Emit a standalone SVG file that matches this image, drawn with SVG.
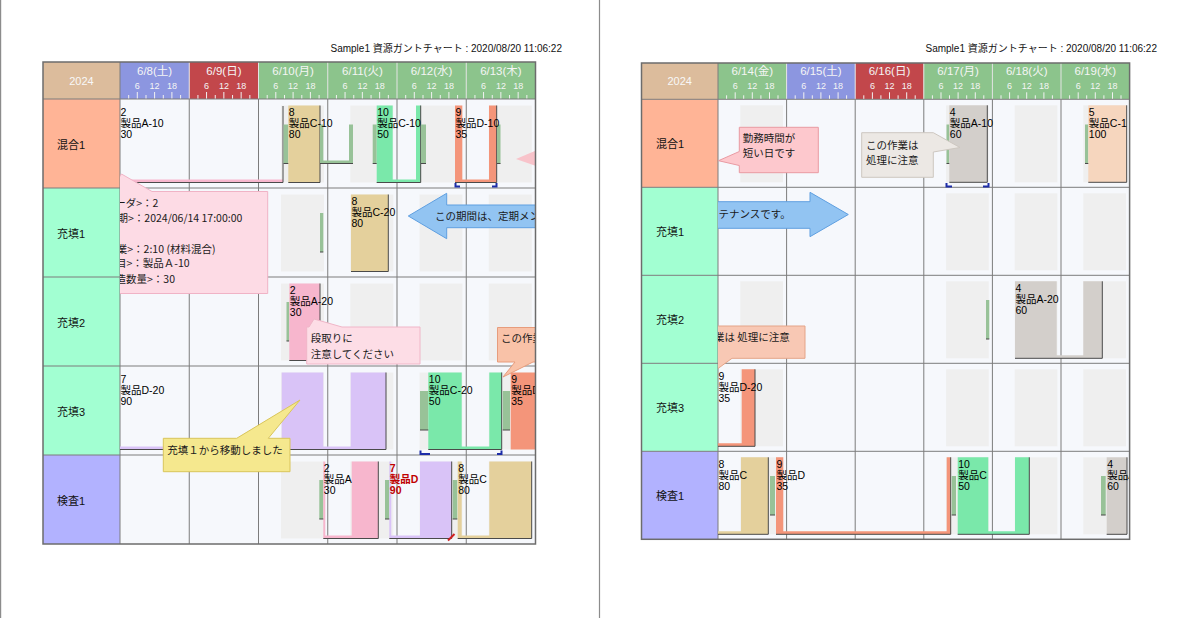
<svg xmlns="http://www.w3.org/2000/svg" width="1200" height="618" viewBox="0 0 1200 618">
<style>
.pg{stroke:#8c8c8c;stroke-width:1.2}
.title{font-family:"Liberation Sans","Noto Sans CJK JP",sans-serif;font-size:10px;fill:#111;text-anchor:end}
.bg{fill:#f6f8fc}
.gray{fill:#efefef}
.grid{stroke:#7c7c7c;stroke-width:1;fill:none}
.hsep{stroke:#e4e4e4;stroke-width:1}
.frame{fill:none;stroke:#6c6c6c;stroke-width:1.5}
.hd{font-family:"Liberation Sans","Noto Sans CJK JP",sans-serif;font-size:11.5px;fill:#f5f5f5;text-anchor:middle}
.yr{font-family:"Liberation Sans",sans-serif;font-size:11px;fill:#f8f8f8;text-anchor:middle}
.hr{font-family:"Liberation Sans",sans-serif;font-size:9px;fill:#f5f5f5;text-anchor:middle}
.tick{stroke:#f2f2f2;stroke-width:1;fill:none}
.res{font-family:"Liberation Sans","Noto Sans CJK JP",sans-serif;font-size:11px;fill:#111}
.t{font-family:"Liberation Sans","Noto Sans CJK JP",sans-serif;font-size:10.5px;fill:#000}
.red{fill:#c00000;font-weight:bold}
.cl{font-family:"Noto Sans CJK JP",sans-serif;font-size:10.5px;fill:#1a1a1a}
.setup{fill:#98c298}
.sh{fill:none;stroke:#4a4a4a;stroke-width:1}
.pink{fill:#f7b6cd}.tan{fill:#e4d09c}.grn{fill:#7ae8aa}.org{fill:#f4957a}.lav{fill:#d9c3f7}.tau{fill:#d3cfcb}.pch{fill:#f6d6be}
.hdl{fill:none;stroke:#1c2ca8;stroke-width:2}
</style>
<defs>
<clipPath id="cL"><rect x="120" y="99" width="415.5" height="445"/></clipPath>
<clipPath id="cR"><rect x="718" y="99.3" width="411.6" height="440"/></clipPath>
<path id="tkL" class="tick" d="M8.7,-4V0M17.3,-7V0M26,-4V0M34.6,-7V0M43.3,-4V0M51.9,-7V0M60.6,-4V0"/>
<path id="tkR" class="tick" d="M8.6,-4V0M17.2,-7V0M25.7,-4V0M34.3,-7V0M42.9,-4V0M51.5,-7V0M60,-4V0"/>
</defs>
<rect x="0" y="0" width="1200" height="618" fill="#fff"/>
<line class="pg" x1="0.6" y1="0" x2="0.6" y2="618"/>
<line class="pg" x1="599.5" y1="0" x2="599.5" y2="618"/>

<!-- ================= LEFT PAGE ================= -->
<g id="page-left">
<text class="title" x="562" y="51.5">Sample1 資源ガントチャート : 2020/08/20 11:06:22</text>
<g id="header-left">
<rect x="43" y="62" width="77" height="37" fill="#dcbc9c"/>
<rect x="120" y="62" width="69.25" height="37" fill="#8c96e0"/>
<rect x="189.25" y="62" width="69.25" height="37" fill="#c2474b"/>
<rect x="258.5" y="62" width="277" height="37" fill="#8cc48c"/>
<g class="hsep"><line x1="189.25" y1="62" x2="189.25" y2="99"/><line x1="258.5" y1="62" x2="258.5" y2="99"/><line x1="327.75" y1="62" x2="327.75" y2="99"/><line x1="397" y1="62" x2="397" y2="99"/><line x1="466.25" y1="62" x2="466.25" y2="99"/></g>
<text class="yr" x="81.5" y="85">2024</text>
<text class="hd" x="154.6" y="74.5">6/8(土)</text>
<text class="hd" x="223.9" y="74.5">6/9(日)</text>
<text class="hd" x="293.1" y="74.5">6/10(月)</text>
<text class="hd" x="362.4" y="74.5">6/11(火)</text>
<text class="hd" x="431.6" y="74.5">6/12(水)</text>
<text class="hd" x="500.9" y="74.5">6/13(木)</text>
<g class="hr">
<text x="137.3" y="88.5">6</text><text x="154.6" y="88.5">12</text><text x="171.9" y="88.5">18</text>
<text x="206.6" y="88.5">6</text><text x="223.9" y="88.5">12</text><text x="241.2" y="88.5">18</text>
<text x="275.8" y="88.5">6</text><text x="293.1" y="88.5">12</text><text x="310.4" y="88.5">18</text>
<text x="345.1" y="88.5">6</text><text x="362.4" y="88.5">12</text><text x="379.7" y="88.5">18</text>
<text x="414.3" y="88.5">6</text><text x="431.6" y="88.5">12</text><text x="448.9" y="88.5">18</text>
<text x="483.6" y="88.5">6</text><text x="500.9" y="88.5">12</text><text x="518.2" y="88.5">18</text>
</g>
<use href="#tkL" x="120" y="99"/><use href="#tkL" x="189.25" y="99"/><use href="#tkL" x="258.5" y="99"/><use href="#tkL" x="327.75" y="99"/><use href="#tkL" x="397" y="99"/><use href="#tkL" x="466.25" y="99"/>
</g>
<rect class="bg" x="120" y="99" width="415.5" height="445"/>
<g id="resources-left">
<g id="L-mix1"><rect x="43" y="99" width="77" height="89" fill="#ffb496"/><text class="res" x="57" y="148.5">混合1</text></g>
<g id="L-fill1"><rect x="43" y="188" width="77" height="89" fill="#a2ffd2"/><text class="res" x="57" y="237.5">充填1</text></g>
<g id="L-fill2"><rect x="43" y="277" width="77" height="89" fill="#a2ffd2"/><text class="res" x="57" y="326.5">充填2</text></g>
<g id="L-fill3"><rect x="43" y="366" width="77" height="89" fill="#a2ffd2"/><text class="res" x="57" y="415.5">充填3</text></g>
<g id="L-insp1"><rect x="43" y="455" width="77" height="89" fill="#b2b2ff"/><text class="res" x="57" y="504.5">検査1</text></g>
</g>
<g id="work-left" class="gray">
<rect x="281" y="105.5" width="43" height="77"/><rect x="350.3" y="105.5" width="43" height="77"/><rect x="419.5" y="105.5" width="43" height="77"/><rect x="488.8" y="105.5" width="43" height="77"/>
<rect x="281" y="194.5" width="43" height="77"/><rect x="350.3" y="194.5" width="43" height="77"/><rect x="419.5" y="194.5" width="43" height="77"/><rect x="488.8" y="194.5" width="43" height="77"/>
<rect x="281" y="283.5" width="43" height="77"/><rect x="350.3" y="283.5" width="43" height="77"/><rect x="419.5" y="283.5" width="43" height="77"/><rect x="488.8" y="283.5" width="43" height="77"/>
<rect x="281" y="372.5" width="43" height="77"/><rect x="350.3" y="372.5" width="43" height="77"/><rect x="419.5" y="372.5" width="43" height="77"/><rect x="488.8" y="372.5" width="43" height="77"/>
<rect x="281" y="461.5" width="43" height="77"/><rect x="350.3" y="461.5" width="43" height="77"/><rect x="419.5" y="461.5" width="43" height="77"/><rect x="488.8" y="461.5" width="43" height="77"/>
</g>
<path class="grid" d="M120,62V544M189.25,99V544M258.5,99V544M327.75,99V544M397,99V544M466.25,99V544M43,99H535.5M43,188H535.5M43,277H535.5M43,366H535.5M43,455H535.5"/>
<g id="tasks-left" clip-path="url(#cL)">
<g id="L-r1">
<path class="pink" d="M118,179.5H283V182.5H118Z"/><path class="sh" d="M283,106V182.5H118"/>
<rect class="setup" x="283.5" y="124.5" width="4.8" height="39"/>
<rect class="tan" x="288.3" y="105.5" width="31.7" height="77"/><path class="sh" d="M320,105.5V182.5H288.3"/>
<path class="setup" d="M320,124.5H323.3V160.5H349V124.5H353V163.5H320Z"/>
<rect class="setup" x="372.7" y="124.5" width="4" height="39"/>
<path class="grn" d="M376.7,105.5H392.7V179.5H416V105.5H420.7V182.5H376.7Z"/><path class="sh" d="M420.7,105.5V182.5H376.7"/>
<rect class="setup" x="421" y="124.5" width="5" height="39"/>
<path class="org" d="M455,105.5H462.3V179.5H489V105.5H496.7V182.5H455Z"/><path class="sh" d="M496.7,105.5V182.5H455"/>
<rect class="setup" x="497" y="124.5" width="3.5" height="39"/>
<path class="sh" d="M283.5,163.5H288.3M320,163.5H353M372.7,163.5H376.7M421,163.5H426M497,163.5H500.5"/>
<path class="hdl" d="M455.5,183V186.5H460M496.5,183V186.5H492"/>
<text class="t" x="120.5" y="115.5"><tspan x="120.5">2</tspan><tspan x="120.5" dy="11">製品A-10</tspan><tspan x="120.5" dy="11">30</tspan></text>
<text class="t" x="288.8" y="115.5"><tspan x="288.8">8</tspan><tspan x="288.8" dy="11">製品C-10</tspan><tspan x="288.8" dy="11">80</tspan></text>
<text class="t" x="377.2" y="115.5"><tspan x="377.2">10</tspan><tspan x="377.2" dy="11">製品C-10</tspan><tspan x="377.2" dy="11">50</tspan></text>
<text class="t" x="455.5" y="115.5"><tspan x="455.5">9</tspan><tspan x="455.5" dy="11">製品D-10</tspan><tspan x="455.5" dy="11">35</tspan></text>
<polygon points="516,159 536,150.5 536,166" fill="#f8c3ca"/>
</g>
<g id="L-r2">
<rect class="setup" x="320" y="213" width="3.3" height="39"/><path class="sh" d="M320,252H323.3"/>
<rect class="tan" x="351" y="194.5" width="37.3" height="77"/><path class="sh" d="M388.3,194.5V271.5H351"/>
<text class="t" x="351.5" y="204.5"><tspan x="351.5">8</tspan><tspan x="351.5" dy="11">製品C-20</tspan><tspan x="351.5" dy="11">80</tspan></text>
</g>
<g id="L-r3">
<rect class="setup" x="286.5" y="302" width="2.8" height="39"/><path class="sh" d="M286.5,341H289.3"/>
<rect class="pink" x="289.3" y="283.5" width="30.7" height="77"/><path class="sh" d="M320,283.5V360.5H289.3"/>
<text class="t" x="289.8" y="293.5"><tspan x="289.8">2</tspan><tspan x="289.8" dy="11">製品A-20</tspan><tspan x="289.8" dy="11">30</tspan></text>
</g>
<g id="L-r4">
<path class="lav" d="M118,446.5H281.7V372.5H323.3V446.5H350.7V372.5H386V449.5H118Z"/><path class="sh" d="M386,372.5V449.5H118"/>
<rect class="setup" x="420" y="391" width="8.3" height="39"/>
<path class="grn" d="M428.3,372.5H461.7V446.5H489.3V372.5H501.7V449.5H428.3Z"/><path class="sh" d="M501.7,372.5V449.5H428.3"/>
<rect class="setup" x="502.7" y="391" width="7.3" height="39"/>
<path class="sh" d="M420,430H428.3M502.7,430H510"/>
<path class="hdl" d="M420.5,450.5V454H430M501.5,450.5V454H497"/>
<rect class="org" x="510.7" y="372.5" width="30" height="77"/>
<text class="t" x="120.5" y="382.5"><tspan x="120.5">7</tspan><tspan x="120.5" dy="11">製品D-20</tspan><tspan x="120.5" dy="11">90</tspan></text>
<text class="t" x="428.8" y="382.5"><tspan x="428.8">10</tspan><tspan x="428.8" dy="11">製品C-20</tspan><tspan x="428.8" dy="11">50</tspan></text>
<text class="t" x="511.2" y="382.5"><tspan x="511.2">9</tspan><tspan x="511.2" dy="11">製品D-20</tspan><tspan x="511.2" dy="11">35</tspan></text>
</g>
<g id="L-r5">
<rect class="setup" x="319.3" y="480" width="4" height="39"/>
<path class="pink" d="M323.3,461.5H325.3V535.5H351.7V461.5H378.3V538.5H323.3Z"/><path class="sh" d="M378.3,461.5V538.5H323.3"/>
<rect class="setup" x="385" y="480" width="4.3" height="39"/>
<path class="lav" d="M389.3,461.5H391.3V535.5H420V461.5H451.7V538.5H389.3Z"/><path class="sh" d="M451.7,461.5V538.5H389.3"/>
<rect class="setup" x="452.7" y="480" width="4.6" height="39"/>
<path class="tan" d="M457.7,461.5H461.7V535.5H489.3V461.5H531.7V538.5H457.7Z"/><path class="sh" d="M531.7,461.5V538.5H457.7"/>
<path class="sh" d="M319.3,519H323.3M385,519H389.3M452.7,519H457.3"/>
<line x1="448" y1="540.5" x2="454.5" y2="534" stroke="#d02020" stroke-width="2"/>
<text class="t" x="323.8" y="471.5"><tspan x="323.8">2</tspan><tspan x="323.8" dy="11">製品A</tspan><tspan x="323.8" dy="11">30</tspan></text>
<text class="t red" x="389.8" y="471.5"><tspan x="389.8">7</tspan><tspan x="389.8" dy="11">製品D</tspan><tspan x="389.8" dy="11">90</tspan></text>
<text class="t" x="458.2" y="471.5"><tspan x="458.2">8</tspan><tspan x="458.2" dy="11">製品C</tspan><tspan x="458.2" dy="11">80</tspan></text>
</g>
</g>
<g id="callouts-left" clip-path="url(#cL)">
<g id="L-tooltip">
<path d="M121.5,174L152,191.5H267.7V293.5H110V191.5Z" fill="#fddbe5" stroke="#f0b3c6"/>
<text class="cl" x="115.3" y="207">ーダ&gt;：2</text>
<text class="cl" x="117.5" y="221.5">期&gt;：2024/06/14 17:00:00</text>
<text class="cl" x="116.8" y="252.5">業&gt;：2:10 (材料混合)</text>
<text class="cl" x="116" y="267">目&gt;：製品Ａ-10</text>
<text class="cl" x="115.5" y="282.5">造数量&gt;：30</text>
</g>
<g id="L-arrow">
<path d="M408.3,216L446.7,193.3V205H560V227.7H446.7V238.7Z" fill="#92c4f2" stroke="#5f9fe0"/>
<text class="cl" x="435" y="219.5">この期間は、定期メン</text>
</g>
<g id="L-note-setup">
<path d="M306.7,327H309L314,319L342,327H420V364H306.7Z" fill="#fddde6" stroke="#f0b6c8"/>
<text class="cl" x="310.7" y="342">段取りに</text>
<text class="cl" x="310.7" y="357.5">注意してください</text>
</g>
<g id="L-note-move">
<path d="M163.3,438.3H236.7L300,400L268.3,438.3H290V471.7H163.3Z" fill="#f5e88e" stroke="#d9c55a"/>
<text class="cl" x="167.3" y="453.5">充填１から移動しました</text>
</g>
<g id="L-note-work">
<path d="M497.5,327.5H545V362H533L503,377L515,362H497.5Z" fill="#f9c2a8" stroke="#e79c7c"/>
<text class="cl" x="501" y="342">この作業</text>
</g>
</g>
<rect class="frame" x="43" y="62" width="492.5" height="482"/>
</g>

<!-- ================= RIGHT PAGE ================= -->
<g id="page-right">
<text class="title" x="1157" y="51.5">Sample1 資源ガントチャート : 2020/08/20 11:06:22</text>
<g id="header-right">
<rect x="641.5" y="63" width="76.5" height="36.3" fill="#dcbc9c"/>
<rect x="718" y="63" width="68.6" height="36.3" fill="#8cc48c"/>
<rect x="786.6" y="63" width="68.6" height="36.3" fill="#8c96e0"/>
<rect x="855.2" y="63" width="68.6" height="36.3" fill="#c2474b"/>
<rect x="923.8" y="63" width="205.8" height="36.3" fill="#8cc48c"/>
<g class="hsep"><line x1="786.6" y1="63" x2="786.6" y2="99.3"/><line x1="855.2" y1="63" x2="855.2" y2="99.3"/><line x1="923.8" y1="63" x2="923.8" y2="99.3"/><line x1="992.4" y1="63" x2="992.4" y2="99.3"/><line x1="1061" y1="63" x2="1061" y2="99.3"/></g>
<text class="yr" x="679.7" y="85">2024</text>
<text class="hd" x="752.3" y="75">6/14(金)</text>
<text class="hd" x="820.9" y="75">6/15(土)</text>
<text class="hd" x="889.5" y="75">6/16(日)</text>
<text class="hd" x="958.1" y="75">6/17(月)</text>
<text class="hd" x="1026.7" y="75">6/18(火)</text>
<text class="hd" x="1095.3" y="75">6/19(水)</text>
<g class="hr">
<text x="735.2" y="88.5">6</text><text x="752.3" y="88.5">12</text><text x="769.5" y="88.5">18</text>
<text x="803.8" y="88.5">6</text><text x="820.9" y="88.5">12</text><text x="838.1" y="88.5">18</text>
<text x="872.4" y="88.5">6</text><text x="889.5" y="88.5">12</text><text x="906.7" y="88.5">18</text>
<text x="941" y="88.5">6</text><text x="958.1" y="88.5">12</text><text x="975.3" y="88.5">18</text>
<text x="1009.6" y="88.5">6</text><text x="1026.7" y="88.5">12</text><text x="1043.9" y="88.5">18</text>
<text x="1078.2" y="88.5">6</text><text x="1095.3" y="88.5">12</text><text x="1112.5" y="88.5">18</text>
</g>
<use href="#tkR" x="718" y="99.3"/><use href="#tkR" x="786.6" y="99.3"/><use href="#tkR" x="855.2" y="99.3"/><use href="#tkR" x="923.8" y="99.3"/><use href="#tkR" x="992.4" y="99.3"/><use href="#tkR" x="1061" y="99.3"/>
</g>
<rect class="bg" x="718" y="99.3" width="411.6" height="440"/>
<g id="resources-right">
<g id="R-mix1"><rect x="641.5" y="99.3" width="76.5" height="88" fill="#ffb496"/><text class="res" x="656" y="147.8">混合1</text></g>
<g id="R-fill1"><rect x="641.5" y="187.3" width="76.5" height="88" fill="#a2ffd2"/><text class="res" x="656" y="235.8">充填1</text></g>
<g id="R-fill2"><rect x="641.5" y="275.3" width="76.5" height="88" fill="#a2ffd2"/><text class="res" x="656" y="323.8">充填2</text></g>
<g id="R-fill3"><rect x="641.5" y="363.3" width="76.5" height="88" fill="#a2ffd2"/><text class="res" x="656" y="411.8">充填3</text></g>
<g id="R-insp1"><rect x="641.5" y="451.3" width="76.5" height="88" fill="#b2b2ff"/><text class="res" x="656" y="499.8">検査1</text></g>
</g>
<g id="work-right" class="gray">
<rect x="740.3" y="105.3" width="42.7" height="77"/><rect x="946.1" y="105.3" width="42.7" height="77"/><rect x="1014.7" y="105.3" width="42.7" height="77"/><rect x="1083.3" y="105.3" width="42.7" height="77"/>
<rect x="946.1" y="193.3" width="42.7" height="77"/><rect x="1014.7" y="193.3" width="42.7" height="77"/><rect x="1083.3" y="193.3" width="42.7" height="77"/>
<rect x="740.3" y="281.3" width="42.7" height="77"/><rect x="946.1" y="281.3" width="42.7" height="77"/><rect x="1014.7" y="281.3" width="42.7" height="77"/><rect x="1083.3" y="281.3" width="42.7" height="77"/>
<rect x="740.3" y="369.3" width="42.7" height="77"/><rect x="946.1" y="369.3" width="42.7" height="77"/><rect x="1014.7" y="369.3" width="42.7" height="77"/><rect x="1083.3" y="369.3" width="42.7" height="77"/>
<rect x="740.3" y="457.3" width="42.7" height="77"/><rect x="946.1" y="457.3" width="42.7" height="77"/><rect x="1014.7" y="457.3" width="42.7" height="77"/><rect x="1083.3" y="457.3" width="42.7" height="77"/>
</g>
<path class="grid" d="M718,63V539.3M786.6,99.3V539.3M855.2,99.3V539.3M923.8,99.3V539.3M992.4,99.3V539.3M1061,99.3V539.3M641.5,99.3H1129.6M641.5,187.3H1129.6M641.5,275.3H1129.6M641.5,363.3H1129.6M641.5,451.3H1129.6"/>
<g id="tasks-right" clip-path="url(#cR)">
<g id="R-r1">
<rect class="setup" x="946.5" y="124.5" width="2.8" height="39"/>
<rect class="tau" x="949.3" y="105.3" width="38" height="77"/><path class="sh" d="M987.3,105.3V182.3H949.3"/>
<path class="hdl" d="M946.5,183V186.5H952M988.5,183V186.5H983"/>
<rect class="setup" x="1085" y="124.5" width="3.3" height="39"/>
<rect class="pch" x="1088.3" y="105.3" width="38.4" height="77"/><path class="sh" d="M1126.7,105.3V182.3H1088.3"/>
<path class="sh" d="M946.5,163.5H949.3M1085,163.5H1088.3"/>
<text class="t" x="949.8" y="115.8"><tspan x="949.8">4</tspan><tspan x="949.8" dy="11">製品A-10</tspan><tspan x="949.8" dy="11">60</tspan></text>
<text class="t" x="1088.8" y="115.8"><tspan x="1088.8">5</tspan><tspan x="1088.8" dy="11">製品C-1</tspan><tspan x="1088.8" dy="11">100</tspan></text>
</g>
<g id="R-r3">
<rect class="setup" x="986" y="300" width="3.3" height="39"/><path class="sh" d="M986,339H989.3"/>
<path class="tau" d="M1015,281.3H1056.7V355.3H1083.3V281.3H1102.3V358.3H1015Z"/><path class="sh" d="M1102.3,281.3V358.3H1015"/>
<text class="t" x="1015.5" y="291.8"><tspan x="1015.5">4</tspan><tspan x="1015.5" dy="11">製品A-20</tspan><tspan x="1015.5" dy="11">60</tspan></text>
</g>
<g id="R-r4">
<path class="org" d="M716,443.3H741.7V369.3H755V446.3H716Z"/><path class="sh" d="M755,369.3V446.3H716"/>
<text class="t" x="718.5" y="379.8"><tspan x="718.5">9</tspan><tspan x="718.5" dy="11">製品D-20</tspan><tspan x="718.5" dy="11">35</tspan></text>
</g>
<g id="R-r5">
<path class="tan" d="M716,531.3H741V457.3H768.3V534.3H716Z"/><path class="sh" d="M768.3,457.3V534.3H716"/>
<rect class="setup" x="770" y="476" width="5" height="39"/>
<path class="org" d="M776,457.3H783.3V531.3H946.7V457.3H950.7V534.3H776Z"/><path class="sh" d="M950.7,457.3V534.3H776"/>
<rect class="setup" x="951.7" y="476" width="4.3" height="39"/>
<path class="grn" d="M957.7,457.3H988.3V531.3H1015V457.3H1029.3V534.3H957.7Z"/><path class="sh" d="M1029.3,457.3V534.3H957.7"/>
<rect class="setup" x="1101" y="476" width="4.7" height="39"/>
<rect class="tau" x="1106.7" y="457.3" width="20.3" height="77"/><path class="sh" d="M1127,457.3V534.3H1106.7"/>
<path class="sh" d="M770,515H775M951.7,515H956M1101,515H1105.7"/>
<text class="t" x="718.5" y="467.8"><tspan x="718.5">8</tspan><tspan x="718.5" dy="11">製品C</tspan><tspan x="718.5" dy="11">80</tspan></text>
<text class="t" x="776.5" y="467.8"><tspan x="776.5">9</tspan><tspan x="776.5" dy="11">製品D</tspan><tspan x="776.5" dy="11">35</tspan></text>
<text class="t" x="958.2" y="467.8"><tspan x="958.2">10</tspan><tspan x="958.2" dy="11">製品C</tspan><tspan x="958.2" dy="11">50</tspan></text>
<text class="t" x="1107.2" y="467.8"><tspan x="1107.2">4</tspan><tspan x="1107.2" dy="11">製品A</tspan><tspan x="1107.2" dy="11">60</tspan></text>
</g>
</g>
<g id="callouts-right" clip-path="url(#cR)">
<g id="R-note-short">
<path d="M739.3,127.3H818.3V172.7H739.3V165.5L718.5,160.7L739.3,151.5Z" fill="#fdc8cd" stroke="#e99aa2"/>
<text class="cl" x="742.7" y="141.5">勤務時間が</text>
<text class="cl" x="742.7" y="156.5">短い日です</text>
</g>
<g id="R-note-gray">
<path d="M861.7,132.7H933.3L960,147.5L933.3,152V177.3H861.7Z" fill="#ece8e4" stroke="#cdc7c0"/>
<text class="cl" x="866" y="148.5">この作業は</text>
<text class="cl" x="866" y="163.5">処理に注意</text>
</g>
<g id="R-arrow">
<path d="M690,201.7H810V192.3L848.3,214.5L810,236.7V228.3H690Z" fill="#92c4f2" stroke="#5f9fe0"/>
<text class="cl" x="718.5" y="217.5">テナンスです。</text>
</g>
<g id="R-note-work">
<path d="M700,326H805V358.3H732L705,378V326Z" fill="#f8c8b4" stroke="#e4a488"/>
<text class="cl" x="714" y="341">業は 処理に注意</text>
</g>
</g>
<rect class="frame" x="641.5" y="63" width="488.1" height="476.3"/>
</g>
</svg>
